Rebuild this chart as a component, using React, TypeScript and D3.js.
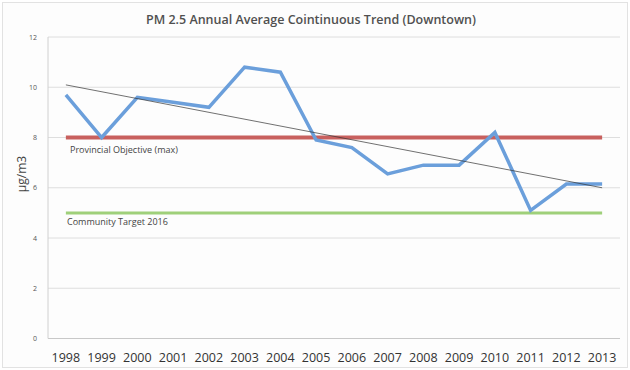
import * as d3 from 'd3';
import { useEffect, useRef } from "react";

const years = ["1998","1999","2000","2001","2002","2003","2004","2005","2006","2007","2008","2009","2010","2011","2012","2013"];
const pm25 = [9.7, 8.0, 9.6, 9.4, 9.2, 10.8, 10.6, 7.9, 7.6, 6.55, 6.9, 6.9, 8.2, 5.1, 6.15, 6.15];
const provincialObjective = 8;
const communityTarget = 5;
const yTicks = [0, 2, 4, 6, 8, 10, 12];

const W = 630, H = 370;

const App = () => {
    const svgRef = useRef<SVGSVGElement>(null);
    const margin = { top: 37, bottom: 31.5, right: 10, left: 48 };

    useEffect(() => {
        const svg = d3.select(svgRef.current)
            .attr('width', W)
            .attr('height', H);
        svg.selectAll('*').remove();

        svg.append('rect').attr('x', 2.5).attr('y', 2.5).attr('width', W - 5).attr('height', H - 5)
            .attr('fill', '#fdfdfd').attr('stroke', '#e2e2e2');

        const x = d3.scaleBand<string>(years, [margin.left, W - margin.right]);
        const cx = (d: string) => (x(d) as number) + x.bandwidth() / 2;
        const y = d3.scaleLinear().domain([0, 12]).range([H - margin.bottom, margin.top]);

        // gridlines
        svg.append('g').selectAll('line').data(yTicks).enter().append('line')
            .attr('x1', margin.left).attr('x2', W - margin.right)
            .attr('y1', d => y(d)).attr('y2', d => y(d))
            .attr('stroke', d => d === 0 ? '#c8c8c8' : '#dedede').attr('stroke-width', 1);
        svg.append('line').attr('x1', margin.left).attr('x2', margin.left)
            .attr('y1', y(0)).attr('y2', y(12)).attr('stroke', '#d0d0d0');

        svg.append('g').selectAll('text').data(yTicks).enter().append('text')
            .attr('x', 37).attr('y', d => y(d) + 2.5)
            .attr('text-anchor', 'end').attr('font-size', 7).attr('fill', '#555')
            .attr('font-family', 'Open Sans')
            .text(d => d);

        svg.append('g').selectAll('text').data(years).enter().append('text')
            .attr('x', d => cx(d)).attr('y', 362)
            .attr('text-anchor', 'middle').attr('font-size', 12.5).attr('fill', '#333')
            .attr('font-family', 'Open Sans')
            .text(d => d);

        svg.append('text')
            .attr('transform', 'rotate(270)')
            .attr('x', -174).attr('y', 26)
            .attr('text-anchor', 'middle').attr('font-size', 12).attr('fill', '#444')
            .attr('font-family', 'Open Sans')
            .text('µg/m3');

        svg.append('text')
            .attr('x', 311).attr('y', 24)
            .attr('text-anchor', 'middle').attr('font-size', 12.5).attr('font-weight', 600)
            .attr('fill', '#505050').attr('font-family', 'Open Sans')
            .text('PM 2.5 Annual Average Cointinuous Trend (Downtown)');

        const first = years[0], last = years[years.length - 1];

        // reference lines
        svg.append('line').attr('x1', cx(first)).attr('x2', cx(last))
            .attr('y1', y(provincialObjective)).attr('y2', y(provincialObjective))
            .attr('stroke', '#c8605e').attr('stroke-width', 4);
        svg.append('line').attr('x1', cx(first)).attr('x2', cx(last))
            .attr('y1', y(communityTarget)).attr('y2', y(communityTarget))
            .attr('stroke', '#9fd07a').attr('stroke-width', 3);

        svg.append('text').attr('x', 70).attr('y', y(provincialObjective) + 15)
            .attr('font-size', 9).attr('fill', '#444').attr('font-family', 'Open Sans')
            .text('Provincial Objective (max)');
        svg.append('text').attr('x', 67).attr('y', y(communityTarget) + 12)
            .attr('font-size', 9).attr('fill', '#444').attr('font-family', 'Open Sans')
            .text('Community Target 2016');

        // data line
        const line = d3.line<number>().x((_, i) => cx(years[i])).y(d => y(d));
        svg.append('path').datum(pm25).attr('d', line)
            .attr('fill', 'none').attr('stroke', '#6b9fdb').attr('stroke-width', 3.5)
            .attr('stroke-linejoin', 'miter');

        // linear trendline (least squares)
        const n = pm25.length;
        const mx = d3.mean(d3.range(n)) as number;
        const my = d3.mean(pm25) as number;
        let sxy = 0, sxx = 0;
        pm25.forEach((v, i) => { sxy += (i - mx) * (v - my); sxx += (i - mx) * (i - mx); });
        const slope = sxy / sxx;
        const b = my - slope * mx;
        svg.append('line')
            .attr('x1', cx(first)).attr('y1', y(b))
            .attr('x2', cx(last)).attr('y2', y(b + slope * (n - 1)))
            .attr('stroke', '#333').attr('stroke-width', 0.7);
    });

    return (
        <div style={{ position: 'absolute', left: 0, top: 0 }}>
            <svg ref={svgRef} style={{ display: 'block' }} />
        </div>
    );
}

export default App;
